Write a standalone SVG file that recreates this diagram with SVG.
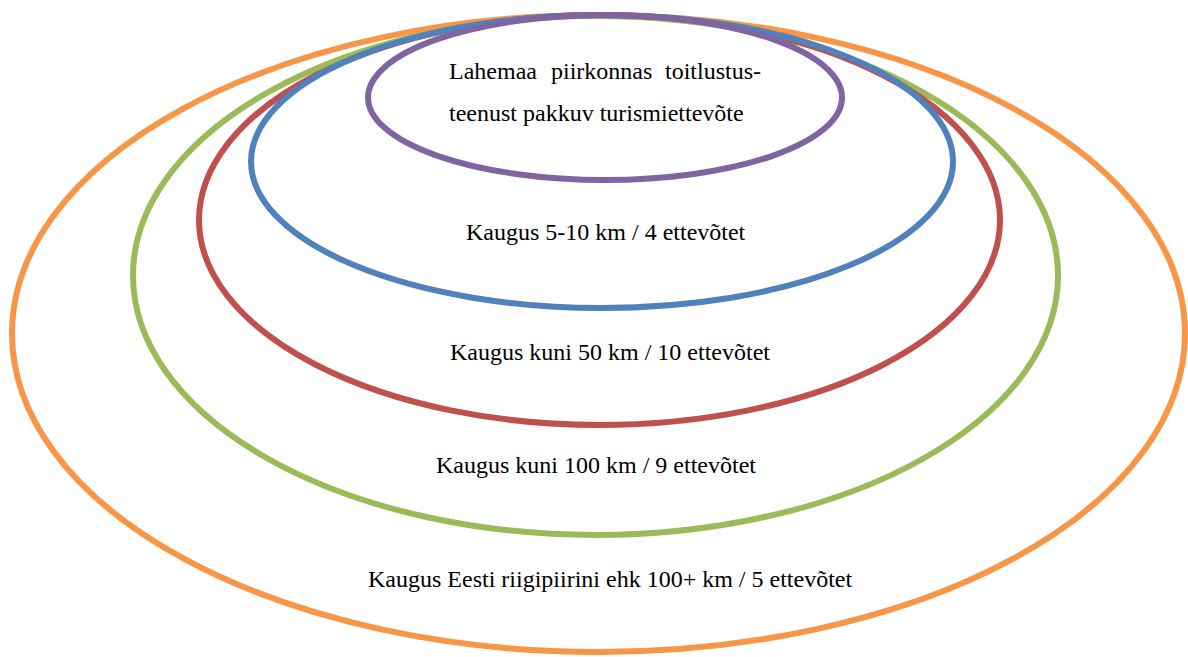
<svg xmlns="http://www.w3.org/2000/svg" width="1188" height="657" viewBox="0 0 1188 657">
<style>
.ring{fill:none;stroke-width:6}
.t{font-family:"Liberation Serif","Times New Roman",serif;font-size:24px;fill:#000}
</style>
<rect width="1188" height="657" fill="#fff"/>
<g id="ring-100plus"><ellipse class="ring" cx="598.5" cy="333.5" rx="586.5" ry="318.5" stroke="#F79646"/></g>
<g id="ring-100"><ellipse class="ring" cx="595.5" cy="275.5" rx="462.5" ry="259.5" stroke="#9BBB59"/></g>
<g id="ring-50"><ellipse class="ring" cx="599.5" cy="220" rx="400.5" ry="205" stroke="#C0504D"/></g>
<g id="ring-5-10"><ellipse class="ring" cx="602" cy="161.5" rx="351" ry="146.5" stroke="#4F81BD"/></g>
<g id="ring-center"><ellipse class="ring" cx="605" cy="97.5" rx="237" ry="82.5" stroke="#8064A2"/></g>
<g id="labels">
<text class="t" y="79"><tspan x="449">Lahemaa</tspan><tspan x="551">piirkonnas</tspan><tspan x="665">toitlustus-</tspan></text>
<text class="t" x="449" y="121">teenust pakkuv turismiettevõte</text>
<text class="t" x="466" y="240">Kaugus 5-10 km / 4 ettevõtet</text>
<text class="t" x="450" y="360">Kaugus kuni 50 km / 10 ettevõtet</text>
<text class="t" x="436" y="473">Kaugus kuni 100 km / 9 ettevõtet</text>
<text class="t" x="368" y="587">Kaugus Eesti riigipiirini ehk 100+ km / 5 ettevõtet</text>
</g>
<g id="connectors"></g>
</svg>
